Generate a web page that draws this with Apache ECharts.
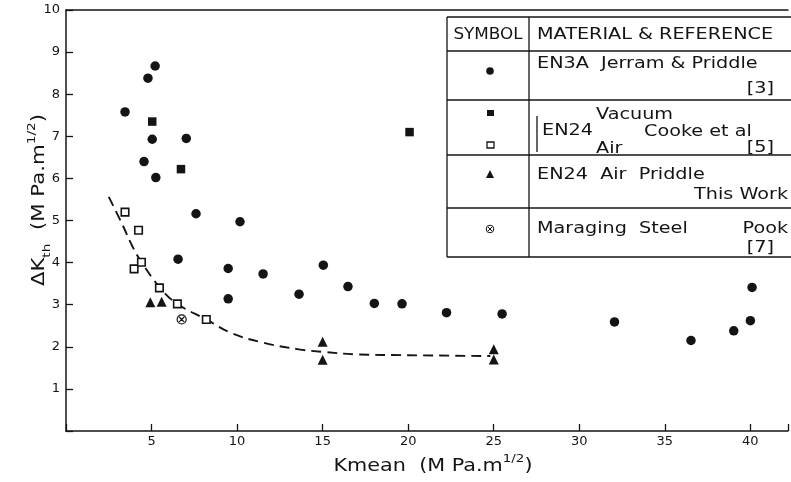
<!DOCTYPE html>
<html>
<head>
<meta charset="utf-8">
<title>Threshold vs Kmean</title>
<script src="https://cdn.jsdelivr.net/npm/echarts@6/dist/echarts.min.js"></script>
<style>
  html, body { margin: 0; padding: 0; background: #fff; }
  #chart { width: 791px; height: 482px; }
</style>
</head>
<body>
<div id="chart"></div>
<script>
// EN3A, Jerram & Priddle [3]
const en3aPoints = [
  [3.45, 7.58], [4.79, 8.38], [5.21, 8.67], [5.04, 6.93], [7.03, 6.95],
  [4.56, 6.40], [5.25, 6.02], [7.60, 5.16], [10.17, 4.97], [6.55, 4.08],
  [9.48, 3.86], [11.52, 3.73], [9.48, 3.14], [15.04, 3.94], [13.62, 3.25],
  [16.48, 3.43], [18.02, 3.03], [19.64, 3.02], [22.24, 2.81], [25.49, 2.78],
  [32.06, 2.59], [36.53, 2.15], [39.03, 2.38], [40.0, 2.62], [40.1, 3.41]
]
// EN24 vacuum / air, Cooke et al [5]
const en24VacuumPoints = [[5.04, 7.35], [6.72, 6.22], [20.08, 7.10]]
const en24AirPoints = [
  [3.45, 5.20], [4.24, 4.77], [3.98, 3.85], [4.41, 4.01],
  [5.46, 3.40], [6.51, 3.02], [8.20, 2.65]
]
// EN24 air, Priddle (this work)
const priddlePoints = [[4.93, 3.06], [5.59, 3.07], [15.0, 2.12], [15.0, 1.69], [25.0, 1.94], [25.0, 1.70]]
// Maraging steel, Pook [7]
const maragingPoints = [[6.76, 2.65]]
// dashed trend curve
const curvePoints = [
  [2.5, 5.56], [3.3, 4.9], [3.9, 4.37], [4.4, 4.02], [5.5, 3.4], [6.5, 3.02],
  [8.2, 2.65], [9.7, 2.32], [11.5, 2.1], [13.6, 1.94], [15, 1.88], [17, 1.82],
  [20, 1.8], [24.8, 1.78]
]
const xTicks = [5, 10, 15, 20, 25, 30, 35, 40]
const yTicks = [1, 2, 3, 4, 5, 6, 7, 8, 9, 10]

const ink = '#141414'
const font = 'DejaVu Sans'

const chart = echarts.init(document.getElementById('chart'))

const txt = (x, y, text, align, scale) => ({
  type: 'text',
  x: x,
  y: y,
  scaleX: scale || 1.28,
  style: {
    text: text,
    fill: ink,
    fontFamily: font,
    fontSize: 15,
    textAlign: align || 'left',
    textVerticalAlign: 'middle'
  }
})
const hline = (y) => ({ type: 'line', shape: { x1: 447, y1: y, x2: 791, y2: y }, style: { stroke: ink, lineWidth: 1.3 } })
const vline = (x, y1, y2) => ({ type: 'line', shape: { x1: x, y1: y1, x2: x, y2: y2 }, style: { stroke: ink, lineWidth: 1.3 } })

const supRich = {
  n: { fontSize: 17, lineHeight: 26, fontFamily: font, fill: ink },
  sup: { fontSize: 11, verticalAlign: 'top', fontFamily: font, fill: ink },
  sub: { fontSize: 11, verticalAlign: 'bottom', fontFamily: font, fill: ink }
}

const legendGraphics = [
  hline(17), hline(51), hline(100), hline(155), hline(208), hline(257),
  vline(447, 17, 257), vline(529, 17, 257),
  vline(537, 116, 152),
  txt(488, 35, 'SYMBOL', 'center', 1.12),
  txt(537, 35, 'MATERIAL & REFERENCE'),
  txt(537, 64, 'EN3A  Jerram & Priddle'),
  txt(774, 89, '[3]', 'right'),
  txt(542, 131, 'EN24'),
  txt(596, 115, 'Vacuum'),
  txt(596, 149, 'Air'),
  txt(644, 132, 'Cooke et al'),
  txt(774, 148, '[5]', 'right'),
  txt(537, 175, 'EN24  Air  Priddle'),
  txt(788, 195, 'This Work', 'right'),
  txt(537, 229, 'Maraging  Steel'),
  txt(788, 229, 'Pook', 'right'),
  txt(774, 248, '[7]', 'right'),
  // legend symbols
  { type: 'circle', shape: { cx: 490, cy: 71, r: 3.8 }, style: { fill: ink } },
  { type: 'rect', shape: { x: 487, y: 110, width: 7, height: 6 }, style: { fill: ink } },
  { type: 'rect', shape: { x: 487, y: 142, width: 7, height: 6 }, style: { fill: '#fff', stroke: ink, lineWidth: 1.3 } },
  { type: 'polygon', shape: { points: [[486, 178], [494, 178], [490, 170]] }, style: { fill: ink } },
  { type: 'circle', shape: { cx: 490, cy: 229, r: 3.8 }, style: { fill: '#fff', stroke: ink, lineWidth: 1 } },
  { type: 'line', shape: { x1: 488, y1: 227, x2: 492, y2: 231 }, style: { stroke: ink, lineWidth: 1 } },
  { type: 'line', shape: { x1: 492, y1: 227, x2: 488, y2: 231 }, style: { stroke: ink, lineWidth: 1 } }
]

const titleGraphics = [
  {
    type: 'text',
    x: 433,
    y: 467,
    scaleX: 1.22,
    style: {
      text: '{n|Kmean  (M Pa.m}{sup|1/2}{n|)}',
      rich: supRich,
      textAlign: 'center',
      textVerticalAlign: 'middle'
    }
  },
  {
    type: 'text',
    x: 40,
    y: 200,
    rotation: Math.PI / 2,
    scaleX: 1.25,
    style: {
      text: '{n|ΔK}{sub|th}{n|  (M Pa.m}{sup|1/2}{n|)}',
      rich: supRich,
      textAlign: 'center',
      textVerticalAlign: 'middle'
    }
  }
]

const axisCommon = {
  axisLine: { show: true, lineStyle: { color: ink, width: 1.5 } },
  axisTick: { inside: true, length: 7, lineStyle: { color: ink, width: 1.3 } },
  splitLine: { show: false }
}

const option = {
  backgroundColor: '#fff',
  animation: false,
  grid: { left: 66, right: 0, top: 10, bottom: 51 },
  xAxis: [
    Object.assign({}, axisCommon, {
      type: 'value',
      min: 0,
      max: 42.2,
      interval: 5,
      axisLabel: {
        color: ink, fontFamily: font, fontSize: 13, margin: 4,
        formatter: (v) => (xTicks.indexOf(v) >= 0 ? String(v) : '')
      }
    }),
    {
      type: 'value', position: 'top', min: 0, max: 42.2,
      axisLine: { show: true, lineStyle: { color: ink, width: 1.5 } },
      axisTick: { show: false }, axisLabel: { show: false }, splitLine: { show: false }
    }
  ],
  yAxis: Object.assign({}, axisCommon, {
    type: 'value',
    min: 0,
    max: 10,
    interval: 1,
    axisLabel: {
      color: ink, fontFamily: font, fontSize: 13, margin: 6,
      formatter: (v) => (yTicks.indexOf(v) >= 0 ? String(v) : '')
    }
  }),
  graphic: legendGraphics.concat(titleGraphics),
  series: [
    {
      name: 'trend',
      type: 'line',
      data: curvePoints,
      smooth: 0.4,
      showSymbol: false,
      lineStyle: { color: ink, width: 1.9, type: [10, 6] },
      z: 1
    },
    {
      name: 'EN3A Jerram & Priddle',
      type: 'scatter',
      data: en3aPoints,
      symbol: 'circle',
      symbolSize: 9.5,
      itemStyle: { color: ink, opacity: 1 }
    },
    {
      name: 'EN24 Vacuum',
      type: 'scatter',
      data: en24VacuumPoints,
      symbol: 'rect',
      symbolSize: 8.5,
      itemStyle: { color: ink, opacity: 1 }
    },
    {
      name: 'EN24 Air',
      type: 'scatter',
      data: en24AirPoints,
      symbol: 'rect',
      symbolSize: 7.5,
      itemStyle: { color: '#fff', borderColor: ink, borderWidth: 1.6, opacity: 1 }
    },
    {
      name: 'EN24 Air Priddle',
      type: 'scatter',
      data: priddlePoints,
      symbol: 'triangle',
      symbolSize: 10,
      itemStyle: { color: ink, opacity: 1 }
    },
    {
      name: 'Maraging Steel Pook',
      type: 'scatter',
      data: maragingPoints,
      symbol: 'path://M10,0A10,10 0 1,1 10,20A10,10 0 1,1 10,0ZM4,4L16,16M16,4L4,16',
      symbolSize: 9,
      symbolKeepAspect: true,
      itemStyle: { color: '#fff', borderColor: ink, borderWidth: 1.2, opacity: 1 }
    }
  ]
}

chart.setOption(option)
</script>
</body>
</html>
